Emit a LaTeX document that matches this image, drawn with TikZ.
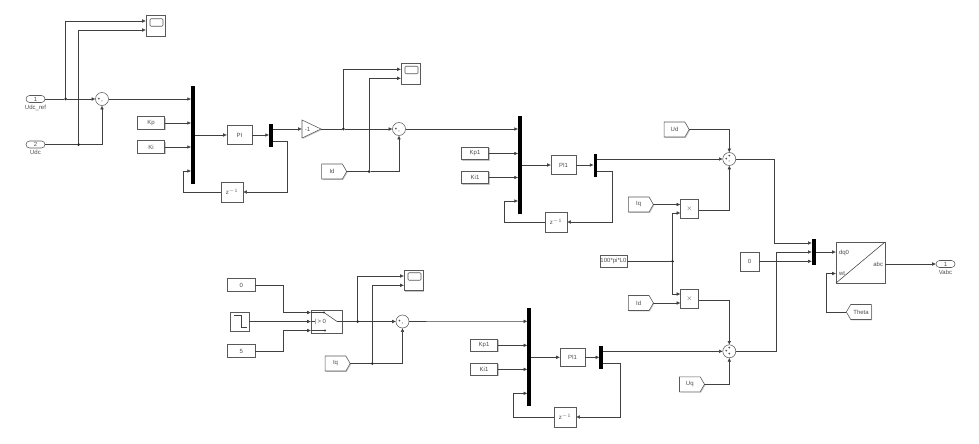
\documentclass[tikz,border=0pt]{standalone}
\usepackage{fontspec}
\setmainfont{Liberation Sans}
\usetikzlibrary{positioning,arrows.meta,shapes,shadows,calc}

\begin{document}
\begin{tikzpicture}[
    x=1pt, y=-1pt,
    every node/.style={font=\fontsize{6}{7}\selectfont, text=black!70, inner sep=0pt, outer sep=0pt},
    block/.style={rectangle, draw=black!65, line width=0.55pt, fill=white, drop shadow={shadow xshift=0.9pt, shadow yshift=-0.9pt, fill=black!45}},
    constblock/.style={block, minimum width=27.5pt, minimum height=12.5pt},
    piblock/.style={block, minimum width=25pt, minimum height=18.5pt},
    delayblock/.style={block, minimum width=22pt, minimum height=20pt},
    scopeblock/.style={block, minimum width=19pt, minimum height=20.5pt},
    screen/.style={rectangle, rounded corners=1pt, draw=black!65, line width=0.55pt, minimum width=13pt, minimum height=7.5pt},
    prodblock/.style={block, minimum width=18pt, minimum height=19pt, font=\fontsize{7}{8}\selectfont\bfseries},
    busbar/.style={rectangle, fill=black, minimum width=3.8pt},
    port/.style={rounded rectangle, draw=black!65, line width=0.55pt, fill=white, minimum width=19pt, minimum height=7pt},
    portname/.style={yshift=-2.5pt},
    gotoblock/.style={signal, signal to=east, signal pointer angle=120, draw=black!65, line width=0.55pt, fill=white, minimum width=25pt, minimum height=15pt, drop shadow={shadow xshift=0.9pt, shadow yshift=-0.9pt, fill=black!45}},
    sumblock/.style={circle, draw=black!65, line width=0.55pt, fill=white, minimum size=13pt},
    sign/.style={font=\fontsize{4}{4.5}\selectfont\bfseries, text=black, label distance=-4.6pt},
    junction/.style={circle, fill=black!85, minimum size=3pt},
    wire/.style={-{Latex[length=3.8pt,width=3.6pt]}, line width=0.55pt, draw=black!75},
    plain/.style={line width=0.55pt, draw=black!75}
]
\useasboundingbox (0,0) rectangle (979,444);

% Outer voltage loop
\node[port, label={[portname]below:Udc\_ref}] (in1) at (35.5,99) {1};
\node[port, label={[portname]below:Udc}, below=38.5pt of in1] (in2) {2};
\node[sumblock, label={[sign]180:+}, label={[sign]270:-}] (sum1) at (102,99) {};
\node[scopeblock] (scope1) at (155.5,26) {};
\node[screen] (screen1) at (156.5,22.5) {};
\node[busbar, minimum height=98pt] (bus1) at (193,135) {};
\node[constblock] (kp) at (151,123) {Kp};
\node[constblock, below=11.5pt of kp] (ki) {Ki};
\node[piblock] (pi1) at (239.5,135) {PI};
\node[busbar, minimum height=23pt] (demux1) at (271,135) {};
\node[delayblock] (delay1) at (232,192) {z$^{-1}$};
\node[isosceles triangle, isosceles triangle apex angle=55, isosceles triangle stretches, draw=black!65, line width=0.55pt, fill=white, minimum width=18pt, minimum height=19pt, drop shadow={shadow xshift=0.9pt, shadow yshift=-0.9pt, fill=black!45}, anchor=apex] (gain) at (321,129) {-1};
\node[junction] (dot1) at (65.5,99) {};
\node[junction] (dot2) at (78.5,144.5) {};

\draw[plain] (in1.east) -- (dot1);
\draw[wire] (dot1) -- (sum1.west);
\draw[plain] (in2.east) -- (dot2);
\draw[wire] (dot2) -| (sum1.south);
\draw[wire] (dot1) |- ([yshift=5pt]scope1.west);
\draw[wire] (dot2) |- ([yshift=-4pt]scope1.west);
\draw[wire] (sum1.east) -- ([yshift=36pt]bus1.west);
\draw[wire] (kp.east) -- (kp.east -| bus1.west);
\draw[wire] (ki.east) -- (ki.east -| bus1.west);
\draw[wire] (bus1.east) -- (pi1.west);
\draw[wire] (pi1.east) -- (demux1.west);
\coordinate (gainin) at (302,129);
\draw[wire] ([yshift=6pt]demux1.east) -- (gainin);
\draw[wire] ([yshift=-6pt]demux1.east) -- ++(14.5,0) |- (delay1.east);
\draw[wire] (delay1.west) -- ++(-37.5,0) |- ([yshift=-36pt]bus1.west);

% Id loop
\node[scopeblock] (scope2) at (410.5,74) {};
\node[screen] (screen2) at (411.5,70) {};
\node[sumblock, label={[sign]180:+}, label={[sign]270:-}] (sum2) at (399,129) {};
\node[gotoblock] (idref) at (332,171.5) {Id};
\node[busbar, minimum height=98pt] (bus2) at (520,165) {};
\node[constblock] (kp1) at (475,153.5) {Kp1};
\node[constblock, below=11.5pt of kp1] (ki1) {Ki1};
\node[piblock] (pi2) at (563.5,165) {PI1};
\node[busbar, minimum height=23pt] (demux2) at (595.5,165) {};
\node[delayblock] (delay2) at (556,222) {z$^{-1}$};
\node[junction] (dot3) at (343.3,129) {};
\node[junction] (dot4) at (369,171.5) {};

\draw[plain] (gain.apex) -- (dot3);
\draw[wire] (dot3) -- (sum2.west);
\draw[wire] (dot3) |- ([yshift=4.7pt]scope2.west);
\draw[plain] (idref.east) -- (dot4);
\draw[wire] (dot4) |- ([yshift=-4.3pt]scope2.west);
\draw[wire] (dot4) -| (sum2.south);
\draw[wire] (sum2.east) -- ([yshift=36pt]bus2.west);
\draw[wire] (kp1.east) -- (kp1.east -| bus2.west);
\draw[wire] (ki1.east) -- (ki1.east -| bus2.west);
\draw[wire] (bus2.east) -- (pi2.west);
\draw[wire] (pi2.east) -- (demux2.west);
\draw[wire] ([yshift=-6pt]demux2.east) -- ++(14.5,0) |- (delay2.east);
\draw[wire] (delay2.west) -- ++(-41,0) |- ([yshift=-36pt]bus2.west);

% Iq loop
\node[constblock] (zero1) at (241.2,285) {0};
\node[block, minimum width=18.7pt, minimum height=19pt] (stepin) at (239.8,321.5) {};
\draw[plain] ([xshift=4pt,yshift=6pt]stepin.west) -| ([xshift=1.5pt]stepin.center) |- ([xshift=-2pt,yshift=-6pt]stepin.east);
\node[constblock] (five) at (241.2,351) {5};
\node[block, minimum width=31pt, minimum height=23pt] (switch) at (326.5,321.5) {};
\node[anchor=west] (swlabel) at (315,321.5) {\textbar\,> 0};
\node[scopeblock] (scope3) at (413.5,280.5) {};
\node[screen] (screen3) at (414.5,276.5) {};
\node[sumblock, label={[sign]180:+}, label={[sign]270:-}] (sum5) at (402.5,321.5) {};
\node[gotoblock] (iqref) at (335.5,363.5) {Iq};
\node[busbar, minimum height=98pt] (bus4) at (529.3,357.3) {};
\node[constblock] (kp2) at (484,345.3) {Kp1};
\node[constblock, below=11.5pt of kp2] (ki2) {Ki1};
\node[piblock] (pi4) at (572.5,357.3) {PI1};
\node[busbar, minimum height=23pt] (demux4) at (601.3,357.3) {};
\node[delayblock] (delay4) at (565,417) {z$^{-1}$};
\node[junction] (dot5) at (357.7,321.5) {};
\node[junction] (dot6) at (372.3,363.5) {};
\node[circle, fill=black!80, minimum size=2.2pt] (swa) at (324,312.5) {};
\node[circle, fill=black!80, minimum size=2.2pt] (swb) at (325,330.5) {};

\draw[wire] (zero1.east) -- ++(28,0) |- ([yshift=9pt]switch.west);
\draw[wire] (stepin.east) -- (stepin.east -| switch.west);
\draw[wire] (five.east) -- ++(28,0) |- ([yshift=-9pt]switch.west);
\draw[plain] ([yshift=9pt]switch.west) -- (swa) -- ([xshift=-5pt]switch.east);
\draw[plain] ([xshift=-5pt]switch.east) -- (switch.east);
\draw[plain] ([yshift=-9pt]switch.west) -- (swb);
\draw[plain] (switch.west) -- (swlabel.west);
\draw[plain] (switch.east) -- (dot5);
\draw[wire] (dot5) -- (sum5.west);
\draw[wire] (dot5) |- ([yshift=4.5pt]scope3.west);
\draw[plain] (iqref.east) -- (dot6);
\draw[wire] (dot6) |- ([yshift=-4.8pt]scope3.west);
\draw[wire] (dot6) -| (sum5.south);
\draw[wire] (sum5.east) -- ([yshift=36pt]bus4.west);
\draw[wire] (kp2.east) -- (kp2.east -| bus4.west);
\draw[wire] (ki2.east) -- (ki2.east -| bus4.west);
\draw[wire] (bus4.east) -- (pi4.west);
\draw[wire] (pi4.east) -- (demux4.west);
\draw[wire] ([yshift=-6pt]demux4.east) -- ++(17.5,0) |- (delay4.east);
\draw[wire] (delay4.west) -- ++(-40.7,0) |- ([yshift=-36pt]bus4.west);

% Decoupling terms
\node[gotoblock] (ud) at (674.5,129.5) {Ud};
\node[sumblock, label={[sign]90:+}, label={[sign]180:+}, label={[sign]270:-}] (sum3) at (729.3,159) {};
\node[gotoblock] (iqin) at (638.7,204.5) {Iq};
\node[prodblock] (prod1) at (689.5,208.5) {$\times$};
\node[constblock, minimum width=27pt, minimum height=11.5pt] (wl) at (613.5,261.3) {100*pi*L0};
\node[junction] (dot7) at (672.5,261.3) {};
\node[gotoblock] (idin) at (638.7,303) {Id};
\node[prodblock] (prod2) at (689.5,298.5) {$\times$};
\node[sumblock, label={[sign]90:+}, label={[sign]180:+}, label={[sign]270:+}] (sum4) at (729.3,351.3) {};
\node[gotoblock] (uq) at (689.8,384.3) {Uq};

\draw[wire] (ud.east) -| (sum3.north);
\draw[wire] ([yshift=6pt]demux2.east) -- (sum3.west);
\draw[wire] (iqin.east) -- (iqin.east -| prod1.west);
\draw[wire] (prod1.east |- 0,210) -| (sum3.south);
\draw[plain] (wl.east) -- (dot7);
\draw[wire] (dot7) |- (prod1.west |- 0,213);
\draw[wire] (dot7) |- (prod2.west |- 0,294);
\draw[wire] (idin.east) -- (idin.east -| prod2.west);
\draw[wire] (prod2.east |- 0,300) -| (sum4.north);
\draw[wire] ([yshift=6pt]demux4.east) -- (sum4.west);
\draw[wire] (uq.east) -| (sum4.south);

% Inverse transform
\node[busbar, minimum height=26pt] (mux3) at (813.8,252) {};
\node[constblock, minimum width=19pt, minimum height=19pt] (zero2) at (749.5,261.3) {0};
\node[block, minimum width=49pt, minimum height=41pt] (dqabc) at (860.5,262.5) {};
\node[anchor=west] (dqtxt) at (839,252.5) {dq0};
\node[anchor=west] (wttxt) at (839,273.5) {wt};
\node[anchor=east] (abctxt) at (883,264) {abc};
\node[gotoblock, signal to=west] (theta) at (861,312) {Theta};
\node[port, label={[portname]below:Vabc}] (out1) at (945.5,264) {1};
\coordinate (vbusa) at (774.3,243);
\coordinate (vbusb) at (776,252);

\draw[wire] (sum3.east) -| (vbusa) -- (vbusa -| mux3.west);
\draw[wire] (sum4.east) -| (vbusb) -- (vbusb -| mux3.west);
\draw[wire] (zero2.east) -- (zero2.east -| mux3.west);
\draw[wire] (mux3.east) -- (mux3.east -| dqabc.west);
\draw[plain] (dqabc.south west) -- (dqabc.north east);
\draw[wire] (theta.west) -- ++(-20.3,0) |- (dqabc.west |- wttxt);
\draw[wire] (dqabc.east |- out1) -- (out1.west);

\end{tikzpicture}
\end{document}
